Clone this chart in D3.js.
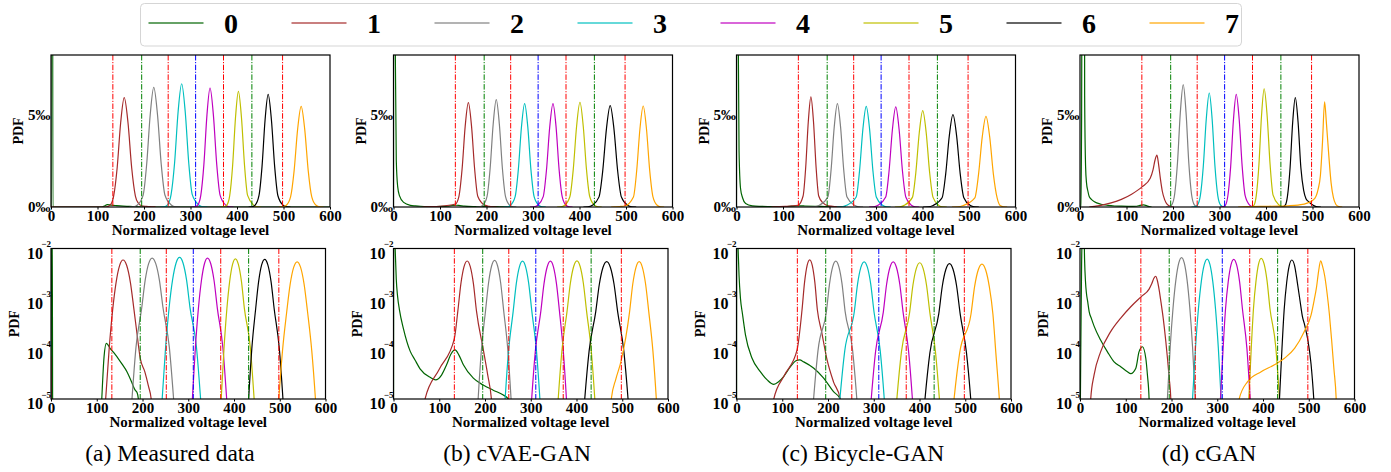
<!DOCTYPE html>
<html>
<head>
<meta charset="utf-8">
<script src="https://cdn.jsdelivr.net/npm/d3@7"></script>
<style>
  body { margin: 0; background: #fff; }
</style>
</head>
<body>
<div id="chart"></div>
<script>
/* PDF OF NORMALIZED VOLTAGE LEVELS: MEASURED VS GENERATED */
const levels = ["0", "1", "2", "3", "4", "5", "6", "7"];
const levelColors = ["#006400", "#a52a2a", "#808080", "#00bfbf", "#bf00bf", "#bfbf00", "#000000", "#ffa500"];
const thresholds = [133, 195, 252, 311, 371, 432, 498];
const thresholdColors = ["#ff0000", "#008000", "#ff0000", "#0000ff", "#ff0000", "#008000", "#ff0000"];
const xTicks = [0, 100, 200, 300, 400, 500, 600];
const linTickValues = [0, 0.005];
const linTickLabels = ["0‰", "5‰"];
const logTickValues = [1e-5, 1e-4, 1e-3, 1e-2];
const logTickExps = ["−5", "−4", "−3", "−2"];
const captions = ["(a) Measured data", "(b) cVAE-GAN", "(c) Bicycle-GAN", "(d) cGAN"];

// Curves as [voltage level, PDF in ‰], one list per level 0..7
const measured = [
  [[0,0.0005],[0.8,60],[2.5,60],[4,0.0005],[105,0.0005],[111,0.01],[116,0.07],[121,0.129],[130,0.1],[141,0.076],[155,0.05],[166,0.035],[176,0.022],[184,0.015],[188,0.0135],[191,0.01],[194,0.0005],[600,0.0005]],
  [[0,0.07],[1.5,0.0006],[111.9,0.0006],[119.5,0.01],[127.1,0.099],[134.7,0.59],[142.3,2.12],[149.9,4.57],[157.5,5.9],[165.5,4.57],[173.5,2.12],[181.5,0.59],[188,0.2],[195,0.065],[205,0.035],[213,0.018],[219,0.01],[225,0.0006]],
  [[168.2,0.0006],[177,0.01],[185.8,0.108],[198.2,0.645],[205.8,2.32],[213.4,4.99],[221,6.45],[229,4.99],[237,2.32],[245,0.645],[258.6,0.108],[268,0.01],[277.4,0.0006]],
  [[235.4,0.0006],[243,0.01],[250.6,0.111],[258.2,0.665],[265.8,2.39],[273.4,5.15],[281,6.65],[288.6,5.15],[296.2,2.39],[303.8,0.665],[317.8,0.111],[327,0.01],[336.2,0.0006]],
  [[302.4,0.0006],[309,0.01],[315.6,0.107],[322.2,0.642],[328.8,2.3],[335.4,4.97],[342,6.42],[349.2,4.97],[356.4,2.3],[363.6,0.642],[375.6,0.107],[384,0.01],[392.4,0.0006]],
  [[365.8,0.0006],[372,0.01],[378.2,0.104],[384.4,0.624],[390.6,2.24],[396.8,4.83],[403,6.24],[409.6,4.83],[416.2,2.24],[422.8,0.624],[435.8,0.104],[444,0.01],[452.2,0.0006]],
  [[425,0.0006],[432,0.01],[439,0.102],[447.2,0.608],[453.8,2.18],[460.4,4.71],[467,6.08],[474,4.71],[481,2.18],[488,0.608],[499,0.102],[507,0.01],[515,0.0006]],
  [[490,0.0006],[498,0.01],[506,0.091],[515.2,0.543],[522.8,1.95],[530.4,4.2],[538,5.43],[545.6,4.2],[553.2,1.95],[560.8,0.543],[570,0.091],[578,0.01],[586,0.0006]]
];

const cvaeGan = [
  [[0,0.0005],[0.5,40],[2.5,25],[4,8],[6,2.5],[9,1.1],[13,0.6],[21.8,0.25],[36.4,0.09],[47,0.06],[58,0.04],[80,0.027],[92,0.024],[105,0.03],[116,0.048],[126,0.08],[134.5,0.095],[143,0.075],[152.7,0.048],[174.5,0.026],[196,0.019],[218,0.015],[240,0.012],[251,0.01],[256,0.0005]],
  [[62,0.0006],[69,0.01],[100,0.039],[133,0.16],[140.6,0.563],[147.4,2.02],[154.2,4.36],[161,5.63],[167.8,4.36],[174.6,2.02],[181.4,0.563],[196,0.1],[206,0.03],[214,0.01],[222,0.0006]],
  [[177.8,0.0006],[185,0.01],[192.2,0.097],[201.2,0.579],[207.8,2.08],[214.4,4.48],[221,5.79],[227.6,4.48],[234.2,2.08],[240.8,0.579],[249.8,0.097],[257,0.01],[264.2,0.0006]],
  [[236.4,0.0006],[244,0.01],[251.6,0.093],[261.6,0.558],[268.4,2.0],[275.2,4.32],[282,5.58],[288.8,4.32],[295.6,2.0],[302.4,0.558],[312.4,0.093],[320,0.01],[327.6,0.0006]],
  [[293.8,0.0006],[302,0.01],[310.2,0.093],[322,0.558],[329,2.0],[336,4.32],[343,5.58],[349.6,4.32],[356.2,2.0],[362.8,0.558],[371,0.093],[378,0.01],[385,0.0006]],
  [[351.8,0.0006],[360,0.01],[368.2,0.094],[379.4,0.565],[386.6,2.03],[393.8,4.37],[401,5.65],[408,4.37],[415,2.03],[422,0.565],[432.2,0.094],[440,0.01],[447.8,0.0006]],
  [[408.4,0.0006],[418,0.01],[427.6,0.091],[442,0.547],[450,1.96],[458,4.23],[466,5.47],[474,4.23],[482,1.96],[490,0.547],[503.4,0.091],[512.7,0.01],[522,0.0006]],
  [[468,0.0006],[476,0.01],[486,0.025],[497,0.055],[516,0.545],[523,1.96],[530,4.22],[537,5.45],[544,4.22],[551,1.96],[558,0.545],[567,0.091],[574.5,0.01],[582,0.0006]]
];

const bicycleGan = [
  [[0,0.0005],[0.5,40],[2,25],[3.5,10],[5.5,3],[8.7,1.0],[13,0.5],[19.6,0.19],[34,0.065],[52,0.035],[67,0.024],[81.5,0.0195],[92,0.022],[103,0.028],[118,0.044],[130,0.058],[138,0.06],[147,0.055],[169,0.041],[190.5,0.026],[212,0.014],[227,0.01],[232,0.0005]],
  [[75,0.0006],[81.5,0.01],[105,0.03],[132.4,0.095],[143.2,0.594],[148.8,2.13],[154.4,4.6],[160,5.94],[165.6,4.6],[171.2,2.13],[176.8,0.594],[186,0.22],[198,0.06],[212,0.022],[227,0.01],[235,0.0006]],
  [[158.8,0.0006],[168.5,0.01],[178.2,0.093],[196.6,0.558],[203.4,2.0],[210.2,4.32],[217,5.58],[223.8,4.32],[230.6,2.0],[237.4,0.558],[253.8,0.093],[263,0.01],[272.2,0.0006]],
  [[215.4,0.0006],[226,0.01],[236.6,0.091],[257.4,0.543],[264.6,1.95],[271.8,4.2],[279,5.43],[286.2,4.2],[293.4,1.95],[300.6,0.543],[314.2,0.091],[323,0.01],[331.8,0.0006]],
  [[284.9,0.0006],[294.5,0.01],[304.1,0.09],[320.9,0.54],[328.1,1.94],[335.3,4.18],[342.5,5.4],[349.7,4.18],[356.9,1.94],[364.1,0.54],[376.1,0.09],[384.5,0.01],[392.9,0.0006]],
  [[340.5,0.0006],[350.5,0.01],[360.5,0.087],[378.3,0.52],[385.7,1.87],[393.1,4.02],[400.5,5.2],[407.9,4.02],[415.3,1.87],[422.7,0.52],[434.9,0.087],[443.5,0.01],[452.1,0.0006]],
  [[401.3,0.0006],[412,0.01],[422.7,0.083],[442.1,0.498],[449.9,1.79],[457.7,3.85],[465.5,4.98],[473.3,3.85],[481.1,1.79],[488.9,0.498],[502.7,0.083],[512,0.01],[521.3,0.0006]],
  [[463.3,0.0006],[475.5,0.01],[487.7,0.082],[512.5,0.489],[520.5,1.76],[528.5,3.78],[536.5,4.89],[544.5,3.78],[552.5,1.76],[560.5,0.489],[566.9,0.082],[574.5,0.01],[582.1,0.0006]]
];

const cGan = [
  [[0,0.001],[1.5,0.05],[3.5,5],[5.5,30],[8,60],[10,6],[12,2.2],[14,1.3],[17,0.85],[20,0.55],[25,0.4],[31,0.28],[45,0.15],[60,0.087],[74.5,0.055],[89,0.044],[103.6,0.035],[111,0.032],[122,0.041],[129,0.087],[136.5,0.11],[143.8,0.065],[147.4,0.03],[151,0.01],[154,0.0006]],
  [[20,0.0006],[23.4,0.01],[30.7,0.03],[45,0.087],[67,0.22],[89,0.41],[111,0.69],[134,1.1],[151,1.55],[157,2.0],[161.5,2.55],[165.5,2.8],[169,2.3],[173,1.5],[177,0.85],[182,0.4],[187.6,0.14],[195,0.026],[198.5,0.01],[202,0.0006]],
  [[184.8,0.0006],[191,0.01],[197.2,0.11],[203.4,0.66],[209.6,2.37],[215.8,5.11],[222,6.6],[228,5.11],[234,2.37],[240,0.66],[246,0.11],[252,0.01],[258,0.0006]],
  [[239.6,0.0006],[246,0.01],[252.4,0.103],[258.8,0.615],[265.2,2.21],[271.6,4.76],[278,6.15],[284.1,4.76],[290.2,2.21],[296.3,0.615],[302.4,0.103],[308.5,0.01],[314.6,0.0006]],
  [[301.2,0.0006],[307,0.01],[312.8,0.102],[318,0.608],[324,2.18],[330,4.71],[336,6.08],[342.4,4.71],[348.8,2.18],[355.2,0.608],[364.8,0.102],[372,0.01],[379.2,0.0006]],
  [[363.6,0.0006],[369,0.01],[374.4,0.107],[379.2,0.638],[384.8,2.29],[390.4,4.94],[396,6.38],[402.4,4.94],[408.8,2.29],[415.2,0.638],[428,0.107],[436,0.01],[444,0.0006]],
  [[430.6,0.0006],[436,0.01],[441.4,0.099],[446.2,0.59],[451.8,2.12],[457.4,4.57],[463,5.9],[469,4.57],[475,2.12],[481,0.9],[486,0.45],[491,0.3],[498,0.15],[505,0.05],[511,0.01],[518,0.0006]],
  [[340,0.0006],[348,0.01],[366,0.022],[396,0.035],[425,0.048],[447,0.065],[469,0.102],[490,0.22],[505,0.47],[512,0.95],[517,1.7],[521.5,3.5],[526,5.67],[530,4.5],[535,2.8],[540,1.3],[545,0.5],[550,0.15],[555,0.04],[560,0.01],[564,0.0006]]
];

const panels = [measured, cvaeGan, bicycleGan, cGan];

const fontFamily = '"Liberation Serif", "Times New Roman", Times, serif';
const panelLefts = [51, 393.5, 736.5, 1080];
const captionX = [170, 517, 863, 1209];
const topPlot = {y: 55, width: 279, height: 152};
const bottomPlot = {y: 248.5, width: 274.5, height: 150.5};

const svg = d3.select("#chart")
    .append("svg")
    .attr("width", 1391)
    .attr("height", 472)
    .style("font-family", fontFamily);

svg.append("rect").attr("width", 1391).attr("height", 472).attr("fill", "#fff");

// Bold serif text, as in the figure's labels
const boldText = (sel, size) => sel
    .style("font-family", fontFamily)
    .attr("font-size", size)
    .attr("font-weight", "bold")
    .attr("fill", "#000");

const drawPlot = (series, left, box, isLog, id) => {
    const g = svg.append("g").attr("transform", `translate(${left}, ${box.y})`);

    const x = d3.scaleLinear().domain([0, 600]).range([0, box.width]);
    const y = isLog
        ? d3.scaleLog().domain([1e-5, 1e-2]).range([box.height, 0])
        : d3.scaleLinear().domain([0, 0.0082]).range([box.height, 0]);

    g.append("clipPath").attr("id", id)
        .append("rect").attr("width", box.width).attr("height", box.height);

    const plot = g.append("g").attr("clip-path", `url(#${id})`);

    // Draws the PDF curve of every level
    const line = d3.line()
        .x(d => x(d[0]))
        .y(d => y(d[1] / 1000))
        .curve(d3.curveMonotoneX);

    plot.selectAll("path.curve")
        .data(series)
        .enter()
        .append("path")
        .attr("class", "curve")
        .attr("d", line)
        .attr("fill", "none")
        .attr("stroke", (d, i) => levelColors[i])
        .attr("stroke-width", 1.2);

    // Adds the read thresholds as dash-dot lines
    plot.selectAll("line.thr")
        .data(thresholds)
        .enter()
        .append("line")
        .attr("class", "thr")
        .attr("x1", d => x(d)).attr("x2", d => x(d))
        .attr("y1", 0).attr("y2", box.height)
        .attr("stroke", (d, i) => thresholdColors[i])
        .attr("stroke-width", 1)
        .attr("stroke-dasharray", "5.5,1.5,1.2,1.5");

    // X axis
    const xAxis = g.append("g")
        .attr("transform", `translate(0, ${box.height})`)
        .call(d3.axisBottom(x).tickValues(xTicks).tickSize(2.5).tickPadding(0.5));
    xAxis.select(".domain").remove();
    boldText(xAxis.selectAll("text"), 15);

    // Y axis
    const yAxis = g.append("g")
        .call(d3.axisLeft(y)
            .tickValues(isLog ? logTickValues : linTickValues)
            .tickSize(0).tickPadding(0.5)
            .tickFormat((d, i) => isLog ? "10" : linTickLabels[i]));
    yAxis.select(".domain").remove();
    boldText(yAxis.selectAll("text"), isLog ? 16 : 15);
    if (isLog) {
        yAxis.selectAll("text")
            .attr("dy", "0.6em")
            .attr("x", -8)
            .each(function(d, i) {
                const sup = d3.select(this.parentNode).append("text")
                    .text(logTickExps[i])
                    .attr("x", 0)
                    .attr("y", -2)
                    .attr("text-anchor", "end");
                boldText(sup, 9);
            });
    }

    // Frame
    g.append("rect")
        .attr("width", box.width).attr("height", box.height)
        .attr("fill", "none")
        .attr("stroke", "#000")
        .attr("stroke-width", 1.2);

    // Axis labels
    boldText(g.append("text")
        .text("Normalized voltage level")
        .attr("x", box.width / 2)
        .attr("y", box.height + 28)
        .attr("text-anchor", "middle"), 15);
    boldText(g.append("text")
        .text("PDF")
        .attr("text-anchor", "middle")
        .attr("transform", `translate(${isLog ? -32 : -28}, ${box.height / 2}) rotate(-90)`), 14);
};

panels.forEach((series, p) => {
    drawPlot(series, panelLefts[p], topPlot, false, `clip-top-${p}`);
    drawPlot(series, panelLefts[p], bottomPlot, true, `clip-bottom-${p}`);

    svg.append("text")
        .text(captions[p])
        .attr("x", captionX[p])
        .attr("y", 461)
        .attr("text-anchor", "middle")
        .attr("font-size", 23.5);
});

/* Legend */
const legend = svg.append("g");
legend.append("rect")
    .attr("x", 140.5).attr("y", 3.5)
    .attr("width", 1101).attr("height", 42.5)
    .attr("rx", 4)
    .attr("fill", "#fff")
    .attr("stroke", "#d5d5d5");

const entries = legend.selectAll("g.entry")
    .data(levels)
    .enter()
    .append("g")
    .attr("class", "entry")
    .attr("transform", (d, i) => `translate(${148.5 + i * 143}, 0)`);
entries.append("line")
    .attr("x1", 0).attr("x2", 55)
    .attr("y1", 23).attr("y2", 23)
    .attr("stroke", (d, i) => levelColors[i])
    .attr("stroke-opacity", 0.6)
    .attr("stroke-width", 2);
boldText(entries.append("text")
    .text(d => d)
    .attr("x", 82.5)
    .attr("y", 33)
    .attr("text-anchor", "middle"), 28);
</script>
</body>
</html>
